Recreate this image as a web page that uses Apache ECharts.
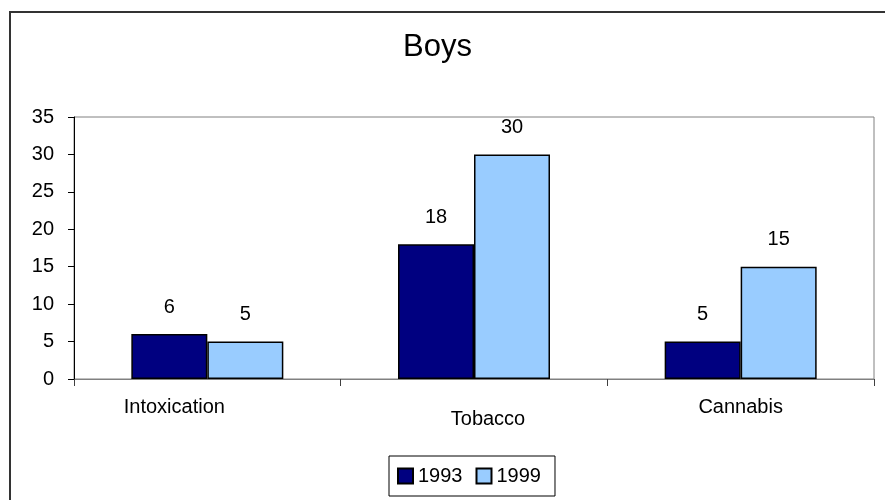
<!DOCTYPE html>
<html>
<head>
<meta charset="utf-8">
<script src="https://cdn.jsdelivr.net/npm/echarts@6/dist/echarts.min.js"></script>
<style>
  html, body { margin: 0; padding: 0; background: #fff; }
  #chart { width: 885px; height: 500px; }
</style>
</head>
<body>
<div id="chart"></div>
<script>
const titleText = 'Boys';
const categories = ['Intoxication', 'Tobacco', 'Cannabis'];
const seriesNames = ['1993', '1999'];
const values1993 = [6, 18, 5];
const values1999 = [5, 30, 15];
const yTicks = [0, 5, 10, 15, 20, 25, 30, 35];

const FONT = "'Liberation Sans', Arial, sans-serif";
const labelStyleKey = { 'Intoxication': 'a', 'Tobacco': 'b', 'Cannabis': 'c' };

const chart = echarts.init(document.getElementById('chart'), null, { renderer: 'canvas' });

chart.setOption({
  backgroundColor: '#ffffff',
  animation: false,
  textStyle: { fontFamily: FONT, color: '#000' },
  graphic: [{
    type: 'rect',
    shape: { x: 10, y: 12, width: 1000, height: 1000 },
    style: { fill: 'none', stroke: '#333333', lineWidth: 2 },
    silent: true
  }],
  title: {
    text: titleText,
    left: 403,
    top: 32,
    padding: 0,
    textStyle: { fontFamily: FONT, fontSize: 31, fontWeight: 'normal', color: '#000' }
  },
  legend: {
    data: seriesNames,
    left: 389,
    top: 456,
    orient: 'horizontal',
    padding: [10, 14, 10, 8],
    itemGap: 13,
    itemWidth: 15,
    itemHeight: 15,
    borderColor: '#000',
    borderWidth: 1,
    icon: 'rect',
    textStyle: { fontFamily: FONT, fontSize: 20, color: '#000', padding: [0, 0, 0, 0] }
  },
  grid: {
    left: 74,
    right: 11,
    top: 117,
    bottom: 121,
    show: true,
    borderColor: '#808080',
    borderWidth: 1,
    containLabel: false
  },
  xAxis: {
    type: 'category',
    data: categories,
    boundaryGap: true,
    axisLine: { show: true, lineStyle: { color: '#808080', width: 1 } },
    axisTick: { show: true, length: 7, inside: false, alignWithLabel: false, lineStyle: { color: '#404040' } },
    axisLabel: {
      margin: 18,
      interval: 0,
      fontFamily: FONT,
      fontSize: 20,
      color: '#000',
      formatter: function (v) { return '{' + labelStyleKey[v] + '|' + v + '}'; },
      rich: {
        a: { fontFamily: FONT, fontSize: 20, color: '#000', padding: [0, 66, 0, 0] },
        b: { fontFamily: FONT, fontSize: 20, color: '#000', padding: [12, 0, 0, 28] },
        c: { fontFamily: FONT, fontSize: 20, color: '#000' }
      }
    },
    splitLine: { show: false }
  },
  yAxis: {
    type: 'value',
    min: yTicks[0],
    max: yTicks[yTicks.length - 1],
    interval: 5,
    axisLine: { show: true, lineStyle: { color: '#000', width: 1 } },
    axisTick: { show: true, length: 6, inside: false, lineStyle: { color: '#000' } },
    axisLabel: { margin: 20, fontFamily: FONT, fontSize: 20, color: '#000' },
    splitLine: { show: false }
  },
  series: [
    {
      name: seriesNames[0],
      type: 'bar',
      data: values1993,
      barGap: '0%',
      barCategoryGap: '43%',
      itemStyle: { color: '#000080', borderColor: '#000', borderWidth: 1.5 },
      label: { show: true, position: 'top', distance: 17, fontFamily: FONT, fontSize: 20, color: '#000' }
    },
    {
      name: seriesNames[1],
      type: 'bar',
      data: values1999,
      barGap: '0%',
      barCategoryGap: '43%',
      itemStyle: { color: '#99CCFF', borderColor: '#000', borderWidth: 1.5 },
      label: { show: true, position: 'top', distance: 17, fontFamily: FONT, fontSize: 20, color: '#000' }
    }
  ]
});
</script>
</body>
</html>
